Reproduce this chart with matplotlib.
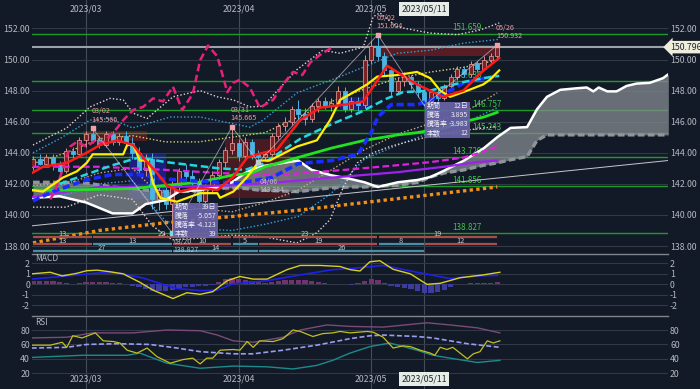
import matplotlib
matplotlib.use("Agg")
import matplotlib.pyplot as plt
from matplotlib.patches import Rectangle

plt.rcParams['font.family'] = ['Noto Sans CJK JP', 'DejaVu Sans']

# ------------------------------------------------------------------
# Data (x = bar index, 0 = 2023/02/17, 70 = 2023/05/26)
# ------------------------------------------------------------------
opens = [143.1, 143.6, 143.3, 143.7, 143.2, 142.8, 144.1, 143.9, 144.8, 145.2,
         144.8, 144.5, 145.2, 144.7, 145.1, 144.6, 144.0, 142.9, 143.6, 141.0,
         141.6, 140.7, 141.9, 142.8, 142.5, 142.2, 140.9, 141.8, 142.6, 143.4,
         144.2, 144.6, 143.8, 144.7, 143.9, 143.7, 143.9, 145.1, 145.7, 146.0,
         146.8, 146.5, 146.2, 147.0, 147.3, 147.0, 147.2, 148.0, 146.8, 147.3,
         147.1, 150.0, 150.9, 150.2, 149.3, 148.0, 148.6, 148.9, 148.4, 147.9,
         147.3, 147.9, 147.5, 148.3, 148.9, 149.4, 149.1, 149.8, 149.4, 150.0,
         150.2]
highs = [143.8, 143.9, 143.9, 143.9, 143.5, 144.3, 144.4, 145.0, 145.4, 145.566,
         145.1, 145.4, 145.4, 145.3, 145.4, 145.0, 144.4, 143.9, 144.0, 141.9,
         141.9, 142.2, 143.0, 143.3, 142.9, 142.4, 142.0, 142.8, 143.6, 144.4,
         145.665, 144.9, 145.0, 144.9, 144.2, 144.1, 145.3, 145.9, 146.3, 147.0,
         147.4, 146.9, 147.2, 147.5, 147.6, 147.5, 148.3, 148.2, 147.6, 147.6,
         150.3, 151.2, 151.604, 150.5, 149.5, 148.9, 149.2, 149.0, 148.6, 148.1,
         148.0, 148.1, 148.4, 149.1, 149.6, 149.6, 149.9, 149.9, 150.2, 150.4,
         150.932]
lows = [142.9, 143.2, 143.1, 142.9, 142.6, 142.7, 143.6, 143.8, 144.4, 144.6,
        144.3, 144.4, 144.5, 144.5, 144.4, 143.6, 142.6, 142.5, 140.4, 140.3,
        140.4, 138.827, 141.6, 142.2, 141.8, 140.6, 140.7, 141.5, 142.3, 143.1,
        143.9, 143.5, 143.6, 143.6, 143.384, 143.5, 143.8, 144.9, 145.4, 145.8,
        146.2, 145.8, 146.0, 146.6, 146.8, 146.7, 147.0, 146.6, 146.6, 146.7,
        146.9, 149.8, 150.0, 149.0, 147.7, 147.8, 148.3, 148.1, 147.6, 147.037,
        147.1, 147.3, 147.4, 148.1, 148.7, 148.9, 148.9, 149.2, 149.3, 149.8,
        150.0]
closes = [143.6, 143.3, 143.7, 143.2, 142.8, 144.1, 143.9, 144.8, 145.2, 144.8,
          144.5, 145.2, 144.7, 145.1, 144.6, 144.0, 142.9, 143.6, 141.0, 141.6,
          140.7, 141.9, 142.8, 142.5, 142.2, 140.9, 141.8, 142.6, 143.4, 144.2,
          144.6, 143.8, 144.7, 143.9, 143.7, 143.9, 145.1, 145.7, 146.0, 146.8,
          146.5, 146.2, 147.0, 147.3, 147.0, 147.2, 148.0, 146.8, 147.3, 147.1,
          150.0, 150.9, 150.2, 149.3, 148.0, 148.6, 148.9, 148.4, 147.9, 147.3,
          147.9, 147.5, 148.3, 148.9, 149.4, 149.1, 149.7, 149.4, 150.0, 150.2,
          150.796]

red_x = [-0.15, 1.5, 5.1, 8.1, 10.1, 12.7, 15.1, 16.6, 18.7, 20.2, 22.2, 24.1, 26.2, 27.8,
         30.2, 32.3, 34.7, 36.8, 40.3, 43.3, 47.1, 49.8, 53.4, 57.9, 61.8, 64.9, 67.4, 70.3]
red_y = [142.7, 143.1, 143.35, 144.0, 144.5, 144.8, 144.5, 143.7, 142.7, 141.9, 141.5, 141.7,
         141.7, 141.6, 142.45, 143.7, 144.0, 144.2, 146.1, 146.9, 147.1, 147.3, 149.6, 148.4,
         147.6, 148.0, 149.1, 150.1]
yel_x = [-0.15, 1.5, 4.5, 6.6, 8.1, 9.0, 13.6, 14.2, 15.1, 16.1, 17.3, 18.1, 19.2, 21.7, 25.2,
         27.8, 28.2, 30.2, 32.3, 34.2, 35.7, 39.8, 42.8, 44.8, 46.3, 50.4, 51.9, 54.9, 57.9,
         59.9, 61.4, 62.9, 65.5, 67.9, 68.9, 70.3]
yel_y = [141.6, 141.5, 142.4, 142.8, 143.35, 143.9, 143.9, 144.5, 144.5, 143.5, 143.5, 142.05,
         141.1, 140.85, 141.4, 141.4, 141.1, 141.5, 142.45, 143.5, 143.5, 144.4, 144.8, 146.1,
         147.4, 148.4, 148.9, 149.0, 149.2, 148.8, 148.0, 147.6, 148.0, 148.4, 148.7, 149.3]
cyan_x = [4, 8, 12, 16, 20, 24, 28, 32, 34.7, 40.3, 44.8, 49.3, 53.4, 55.8, 59.9, 64.9, 67.9, 70.3]
cyan_y = [142.0, 142.6, 143.2, 143.7, 143.4, 143.2, 143.0, 142.9, 143.3, 144.9, 145.8, 146.6,
          147.5, 147.9, 148.0, 148.55, 148.8, 148.95]
blue_x = [0, 3, 8, 12, 16, 20, 28, 31, 36, 40, 45, 49, 51, 52, 54, 58, 60, 62, 65, 67, 70]
blue_y = [140.9, 141.5, 142.25, 142.6, 142.6, 142.3, 142.1, 142.05, 142.4, 143.3, 143.5, 143.9,
          145.3, 146.3, 147.1, 147.1, 147.4, 147.8, 148.5, 148.7, 148.95]
green_x = [0, 5, 15, 20, 25, 30, 33, 35, 40, 45, 50, 55, 58, 62, 65, 68, 70]
green_y = [141.6, 141.6, 141.7, 141.9, 142.1, 142.55, 142.7, 143.1, 143.7, 144.3, 144.8, 145.15,
           145.3, 145.6, 146.0, 146.3, 146.6]
mag_x = [0, 10, 20, 28, 33, 38, 47, 55, 60, 65, 67, 70]
mag_y = [143.1, 143.1, 142.9, 142.7, 142.6, 142.6, 142.9, 143.2, 143.4, 143.7, 143.95, 144.4]
pur_x = [0, 5, 10, 20, 30, 37, 45, 55, 62, 67, 70]
pur_y = [141.15, 141.5, 141.8, 141.8, 141.9, 142.1, 142.4, 142.75, 143.1, 143.4, 143.5]
ora_x = [0, 10, 20, 30, 40, 50, 60, 70]
ora_y = [138.2, 139.0, 139.5, 139.9, 140.3, 140.8, 141.3, 141.8]

# lagging span
lag_x = [2.6, 3.3, 4.1, 5.6, 6.6, 8.1, 9.4, 10.4, 11.6, 12.7, 13.6, 15.1, 16.6, 18.1, 19.6, 21.1,
         22.5, 24.1, 25.2, 26.4, 27.8, 29.3, 30.2, 31.2, 32.7, 34.2, 36.2, 37.7, 39.2, 40.6,
         41.8, 43.3, 45.2]
lag_y = [141.0, 141.5, 142.45, 144.4, 144.7, 144.4, 144.8, 144.6, 145.1, 145.6, 146.1, 146.75,
         146.95, 147.5, 147.3, 148.25, 146.75, 147.8, 149.95, 150.9, 150.2, 147.9, 148.5, 148.7,
         148.2, 146.9, 147.4, 148.4, 149.2, 149.0, 149.8, 150.3, 150.8]

# cloud (leading spans)
span_x = [0, 4, 8, 12, 15, 17, 20, 22, 25, 28, 30, 32, 34, 37, 40, 42, 45, 48, 50, 52, 55, 58,
          60, 62, 65, 68, 70, 72, 74.5, 76, 77.5, 79.5, 82, 83.5, 84.5, 85.3, 86.6, 88, 89.5,
          91, 93, 95, 95.8]
span_a = [141.1, 141.2, 140.8, 140.1, 140.1, 140.7, 140.95, 141.5, 141.6, 141.8, 142.1, 142.7,
          143.1, 143.3, 143.5, 142.9, 142.55, 142.3, 142.1, 141.8, 142.1, 142.25, 142.45, 142.85,
          143.5, 144.3, 145.0, 145.6, 145.65, 146.8, 147.6, 148.05, 148.15, 148.2, 147.95,
          148.2, 147.95, 147.95, 148.3, 148.45, 148.5, 148.8, 149.05]
span_b = [142.1, 142.1, 142.05, 141.8, 141.7, 141.6, 141.5, 141.5, 141.55, 141.7, 141.75, 141.7,
          141.6, 141.55, 141.5, 141.6, 141.75, 141.8, 141.8, 141.85, 141.9, 142.1, 142.45, 142.7,
          142.9, 143.2, 143.35, 143.55, 143.75, 144.8, 145.15, 145.15, 145.15, 145.15, 145.15,
          145.15, 145.15, 145.15, 145.15, 145.15, 145.15, 145.15, 145.15]

# bands
u3_x = [0, 5.1, 8.6, 11.6, 13.6, 15.1, 17.2, 18.7, 21.1, 25.2, 27.8, 30.2, 32.7, 34.7, 39.8,
        43.7, 46.3, 49.8, 51.3, 52.3, 54.9, 59.9, 64, 67.4, 70.3]
u3_y = [144.5, 145.6, 146.95, 147.5, 147.4, 146.55, 146.2, 146.75, 147.6, 148.0, 147.6, 147.4,
        146.95, 147.0, 149.35, 150.6, 150.4, 150.8, 152.75, 153.0, 152.1, 151.7, 151.6, 151.9,
        152.35]
u2_x = [0, 4, 8.6, 11.6, 15, 20.7, 25.2, 32.7, 34.7, 39.8, 46.3, 49.8, 54.9, 59.9, 64.9, 70.3]
u2_y = [144.0, 144.9, 146.1, 146.2, 145.6, 146.3, 146.3, 145.65, 146.1, 147.85, 148.9, 149.5,
        150.4, 150.6, 151.05, 151.3]
band_x = [0, 5, 10, 15, 20, 25, 30, 35, 40, 45, 50, 55, 60, 65, 70]
u1_y = [143.3, 144.0, 144.9, 145.1, 144.7, 144.7, 145.0, 145.3, 146.3, 147.3, 148.1, 148.8,
        149.2, 149.5, 149.97]
l1_y = [141.9, 142.0, 142.7, 143.0, 140.9, 140.4, 140.2, 140.8, 141.6, 142.9, 144.2, 145.2,
        145.9, 146.6, 147.85]
l2_y = [141.2, 141.3, 142.0, 142.2, 139.6, 139.1, 139.0, 139.4, 139.9, 141.4, 143.6, 144.5,
        145.3, 145.9, 146.9]
l3_x = [0, 5, 10, 15, 18, 21, 25, 30, 34.7, 39.8, 42.8, 44.8, 46.8, 48.9, 51.3, 53.8, 57.3,
        62.4, 70.0]
l3_y = [140.5, 140.5, 141.3, 141.0, 139.3, 138.4, 138.5, 138.7, 138.6, 138.2, 138.85, 139.7,
        141.8, 143.35, 144.0, 144.4, 144.8, 145.3, 145.7]

trend_x = [-0.15, 95.75]
trend_y = [139.3, 143.5]

# zigzag pivots
piv_x = [9, 21, 30, 34, 52, 59, 70]
piv_y = [145.566, 138.827, 145.665, 143.384, 151.604, 147.037, 150.932]
piv_date = ["03/02", "03/20", "03/31", "04/06", "05/02", "05/11", "05/26"]

fib_levels = [151.659, 148.630, 146.757, 145.243, 143.729, 141.856, 138.827]
last_price = 150.796

# wave counts (three rows)
row1_x0 = [-0.15, 9, 30, 52]
row1_x1 = [9, 30, 52, 70]
row1_lab = ["13", "22", "23", "19"]
row2_x0 = [-0.15, 9, 21, 30, 34, 52, 59]
row2_x1 = [9, 21, 30, 34, 52, 59, 70]
row2_lab = ["13", "13", "10", "5", "19", "8", "12"]
row3_x0 = [-0.15, 21, 34]
row3_x1 = [21, 34, 59]
row3_lab = ["27", "14", "26"]

# MACD
macd_x = [-0.2, 2.6, 4.4, 6.6, 8.1, 9.7, 11.6, 13.6, 16.1, 18.1, 21.1, 23.2, 25.2, 27.1, 29.3,
          31.2, 33.2, 35.3, 38.3, 40.3, 43.3, 46.3, 47.8, 49.3, 50.8, 52.3, 54.3, 56.9, 59.4,
          61.4, 64.4, 67.9, 70.4]
macd_y = [1.0, 1.15, 0.8, 1.05, 1.3, 1.35, 1.2, 1.0, 0.2, -0.55, -1.35, -0.8, -0.95, -0.7, 0.35,
          0.75, 0.5, 0.5, 1.4, 1.8, 1.8, 1.7, 1.4, 1.27, 2.15, 2.25, 1.43, 1.0, 0.0, 0.1, 0.63,
          0.9, 1.15]
sig_x = [-0.2, 5.1, 10.1, 13.1, 16.6, 19.6, 21.7, 25.2, 27.8, 30.2, 32.7, 35.3, 40.3, 45.2,
         47.8, 52.8, 57.9, 62.9, 67.0, 70.0]
sig_y = [0.5, 0.8, 1.1, 1.05, 0.6, 0.0, -0.4, -0.6, -0.55, 0.05, 0.2, 0.35, 0.9, 1.4, 1.5, 1.8,
         1.15, 0.55, 0.8, 0.85]
hist = [0.35, 0.35, 0.3, 0.3, 0.2, 0.1, 0.05, 0.15, 0.2, 0.25, 0.2, 0.2, 0.15, 0.1, 0.05,
        -0.15, -0.3, -0.45, -0.6, -0.65, -0.6, -0.55, -0.45, -0.3, -0.25, -0.2, -0.15, -0.05,
        0.25, 0.5, 0.6, 0.55, 0.45, 0.3, 0.2, 0.15, 0.2, 0.3, 0.4, 0.45, 0.45, 0.4, 0.35, 0.2,
        0.1, 0.05, 0.05, 0.0, -0.05, 0.1, 0.35, 0.5, 0.4, 0.1, -0.15, -0.3, -0.35, -0.45, -0.6,
        -0.8, -0.85, -0.7, -0.5, -0.25, 0.0, 0.05, 0.1, 0.1, 0.15, 0.15, 0.2]

# RSI
rsi_x = [-0.2, 2.6, 4.4, 5.1, 6.0, 7.4, 9.4, 10.6, 12.1, 13.1, 14.2, 15.7, 17.2, 18.7, 20.7,
         22.6, 24.1, 25.2, 26.2, 27.1, 28.2, 30.2, 31.2, 32.3, 33.2, 34.2, 36.2, 37.7, 39.2,
         40.3, 42.2, 43.7, 45.2, 46.3, 47.8, 50.4, 51.3, 52.8, 54.3, 55.8, 56.9, 58.4, 59.9,
         60.6, 61.4, 62.4, 63.3, 65.5, 66.4, 67.4, 68.5, 69.4, 70.4]
rsi_y = [59, 59, 63, 56, 72, 69, 76, 65, 64, 62, 52, 48, 55, 43, 34, 39, 41, 33, 41, 41, 52, 53,
         52, 64, 56, 65, 64, 68, 80, 78, 71, 75, 76, 78, 76, 78, 77, 70, 55, 58, 57, 52, 48, 45,
         56, 53, 56, 40, 47, 50, 65, 62, 65]
rsima_x = [-0.2, 5.1, 8.1, 12.7, 17.6, 21.7, 25.2, 30.2, 33.2, 37.7, 42.8, 47.8, 50.8, 52.8,
           57.9, 60.3, 62.9, 65.5, 70.4]
rsima_y = [55, 56, 60, 61, 60, 55, 50, 47, 47, 52, 59, 68, 72, 73, 71, 69, 65, 61, 56]
rsiup_x = [-0.2, 5.1, 9.0, 15.1, 20.2, 25.2, 27.8, 30.2, 33.2, 37.7, 40.3, 44.3, 47.8, 52.8,
           59.4, 62.9, 67.0, 70.4]
rsiup_y = [69, 70, 76, 76, 80, 79, 73, 65, 63, 70, 80, 87, 85, 84, 90, 87, 83, 76]
rsilo_x = [-0.2, 7.5, 14.2, 16.1, 20.2, 25.2, 30.2, 35.3, 39.2, 42.8, 45.2, 47.8, 50.8, 53.8,
           57.9, 60.3, 62.9, 67.0, 70.4]
rsilo_y = [42, 45, 45, 48, 34, 27, 30, 29, 26, 31, 38, 48, 57, 62, 52, 45, 41, 35, 38]

month_x = [8, 31, 51]
month_lab = ["2023/03", "2023/04", "2023/05"]
cursor_x = 59
cursor_lab = "2023/05/11"

# ------------------------------------------------------------------
# Figure
# ------------------------------------------------------------------
BG = "#131a27"
TXT = "#b4b8c0"
GRID = "#313846"
XL = (-0.15, 95.75)

fig = plt.figure(figsize=(7, 3.89), dpi=100, facecolor=BG)
ax = fig.add_axes([32 / 700, 136 / 389, 636 / 700, 253 / 389])
axm = fig.add_axes([32 / 700, 74 / 389, 636 / 700, 61 / 389])
axr = fig.add_axes([32 / 700, 0, 636 / 700, 73 / 389])

for a in (ax, axm, axr):
    a.set_facecolor(BG)
    a.set_xlim(*XL)
    a.set_xticks([])
    for s in a.spines.values():
        s.set_visible(False)
    a.tick_params(axis="y", length=0, labelleft=True, labelright=True,
                  labelsize=6.3, colors=TXT, pad=1.5)
    a.grid(axis="y", color=GRID, lw=0.8)
    a.set_axisbelow(True)
    for mx in month_x + [cursor_x]:
        a.axvline(mx, color="#454c59", lw=0.8, zorder=0.5)

for a in (axm, axr):
    a.spines["top"].set_visible(True)
    a.spines["top"].set_color("#80848c")
    a.spines["top"].set_linewidth(1.0)

# ---------------- main panel ----------------
ax.set_ylim(137.55, 153.83)
ax.set_yticks([138, 140, 142, 144, 146, 148, 150, 152])
ax.set_yticklabels([f"{v:.2f}" for v in [138, 140, 142, 144, 146, 148, 150, 152]])

# shaded ranges
ax.add_patch(Rectangle((7.5, 144.75), 9.7, 0.65, fc="#6a1d22", alpha=0.75, lw=0, zorder=1))
ax.add_patch(Rectangle((29.0, 141.1), 9.7, 3.8, fc="#5a1a20", alpha=0.75, lw=0, zorder=1))
ax.add_patch(Rectangle((50.8, 150.25), 19.6, 0.7, fc="#6a1d24", alpha=0.8, lw=0, zorder=1))
ax.add_patch(Rectangle((14.5, 141.0), 5.5, 3.0, fc="#2424c8", alpha=0.55, lw=0, zorder=1))
ax.add_patch(Rectangle((46.3, 146.8), 4.5, 0.8, fc="#2424c8", alpha=0.55, lw=0, zorder=1))

# cloud
ax.fill_between(span_x, span_a, span_b, color="#858b92", alpha=0.75, lw=0, zorder=1.5)
ax.plot(span_x, span_b, color="#8f959b", lw=2.4, ls=(0, (2, 1)), zorder=2)
ax.plot(span_x, span_a, color="#ffffff", lw=1.8, zorder=4)

# fib levels and last price (labels that fall on the info box sit just right of it)
for lv in fib_levels:
    ax.axhline(lv, color="#1f9a2a", lw=1.0, zorder=1.2)
    lx = 66.2 if 144.9 < lv < 147.4 else 63.2
    ax.text(lx, lv + 0.08, f"{lv:.3f}", color="#3cc84a", fontsize=5.8,
            ha="left", va="bottom", zorder=2)
ax.axhline(last_price, color="#9da1a8", lw=1.5, zorder=1.3)
ax.text(96.05, last_price, f"{last_price:.3f}", color="#20242c", fontsize=6.3,
        ha="left", va="center", clip_on=False, zorder=10,
        bbox=dict(boxstyle="larrow,pad=0.2", fc="#eeeedc", ec="none"))

ax.plot(trend_x, trend_y, color="#c8c8cc", lw=0.7, zorder=2)

# bollinger-type bands
ax.plot(u3_x, u3_y, color="#e8d0d8", lw=1.0, ls=(0, (1, 1.5)), zorder=2.5)
ax.plot(u2_x, u2_y, color="#3aa0d8", lw=1.0, ls=(0, (1, 1.5)), zorder=2.5)
ax.plot(band_x, u1_y, color="#d8d070", lw=1.0, ls=(0, (1, 1.5)), zorder=2.5)
ax.plot(band_x, l1_y, color="#c8a888", lw=1.0, ls=(0, (1, 1.5)), zorder=2.5)
ax.plot(band_x, l2_y, color="#3aa0d8", lw=1.0, ls=(0, (1, 1.5)), zorder=2.5)
ax.plot(l3_x, l3_y, color="#e8d0d8", lw=1.0, ls=(0, (1, 1.5)), zorder=2.5)

# candles
for i in range(len(closes)):
    up = closes[i] >= opens[i]
    body_c = "#7a2226" if up else "#4ab4e4"
    edge_c = "#d89090" if up else "#4ab4e4"
    ax.vlines(i, lows[i], highs[i], color=edge_c, lw=0.7, zorder=3)
    lo, hi = min(opens[i], closes[i]), max(opens[i], closes[i])
    ax.add_patch(Rectangle((i - 0.3, lo), 0.6, max(hi - lo, 0.04), fc=body_c,
                           ec=edge_c, lw=0.6, zorder=3.1))

# averages
ax.plot(ora_x, ora_y, color="#f0901a", lw=2.4, ls=(0, (1, 1)), zorder=4)
ax.plot(pur_x, pur_y, color="#a020f0", lw=1.6, zorder=4)
ax.plot(mag_x, mag_y, color="#e020e0", lw=1.6, ls=(0, (3, 1.5)), zorder=4)
ax.plot(green_x, green_y, color="#22e022", lw=2.0, zorder=4)
ax.plot(blue_x, blue_y, color="#1a2cff", lw=2.6, ls=(0, (2, 1)), zorder=4)
ax.plot(cyan_x, cyan_y, color="#22d8e0", lw=1.8, ls=(0, (3, 1.5)), zorder=4)
ax.plot(yel_x, yel_y, color="#ffee00", lw=1.6, zorder=4.2)
ax.plot(red_x, red_y, color="#ff1a1a", lw=1.8, zorder=4.3)
ax.plot(lag_x, lag_y, color="#e8207a", lw=1.8, ls=(0, (3, 1.5)), zorder=4.1)

# zigzag and pivots
ax.plot(piv_x, piv_y, color="#d8c8d0", lw=0.6, alpha=0.7, zorder=4.4)
for px, py, pd in zip(piv_x, piv_y, piv_date):
    if pd == "05/11":
        continue
    is_high = py > 146 or pd in ("03/02", "03/31")
    if is_high:
        ax.scatter([px], [py], marker="s", s=7, color="#f0a0a8", zorder=6)
        ax.text(px - 0.2, py + 0.3, f"{pd}\n{py:.3f}", color="#e89a9a", fontsize=5.2,
                ha="left", va="bottom", linespacing=1.05, zorder=6)
    else:
        mcol = "#70e0e0" if pd == "03/20" else "#c0c8d0"
        ax.scatter([px], [py], marker="s", s=7, color=mcol, zorder=6)
        ty = py - 0.3 if pd == "03/20" else 142.4
        ax.text(px + 0.2, ty, f"{pd}\n{py:.3f}", color="#b8c0c8", fontsize=5.0,
                ha="left", va="top", linespacing=1.05, zorder=6)

# info boxes
for (x0, x1, y0, y1, rows) in [
        (21.1, 27.9, 138.5, 140.77, [("期間", "39日"), ("騰落", "-5.057"), ("騰落率", "-4.123"), ("本数", "39")]),
        (59.1, 65.9, 144.95, 147.27, [("期間", "12日"), ("騰落", "3.895"), ("騰落率", "-3.983"), ("本数", "12")])]:
    ax.add_patch(Rectangle((x0, y0), x1 - x0, y1 - y0, fc="#6a64a8", alpha=0.92, lw=0, zorder=7))
    step = (y1 - y0) / 4.0
    for k, (l, r) in enumerate(rows):
        yy = y1 - step * (k + 0.5)
        ax.text(x0 + 0.3, yy, l, color="#eeeef8", fontsize=5.0, ha="left", va="center", zorder=8)
        ax.text(x1 - 0.25, yy, r, color="#eeeef8", fontsize=5.0, ha="right", va="center", zorder=8)

# wave counts
for y, xs0, xs1, labs, cols in [
        (138.58, row1_x0, row1_x1, row1_lab, ["#a84c4c"] * 4),
        (138.13, row2_x0, row2_x1, row2_lab,
         ["#a84c4c", "#4a8ea6", "#a84c4c", "#4a8ea6", "#a84c4c", "#4a8ea6", "#a84c4c"]),
        (137.68, row3_x0, row3_x1, row3_lab, ["#4a8ea6"] * 3)]:
    for x0, x1, lab, c in zip(xs0, xs1, labs, cols):
        ax.plot([x0 + 0.1, x1 - 0.1], [y, y], color=c, lw=1.6, zorder=5, solid_capstyle="butt")
        ax.text((x0 + x1) / 2, y + 0.22, lab, color="#c4c4c8", fontsize=5.4,
                ha="center", va="center", zorder=5.5)

# date labels top
for mx, ml in zip(month_x, month_lab):
    ax.text(mx, 153.25, ml, color=TXT, fontsize=6.3, ha="center", va="center")
ax.text(cursor_x, 153.25, cursor_lab, color="#20242c", fontsize=6.3, ha="center", va="center",
        bbox=dict(boxstyle="square,pad=0.25", fc="#e6ece6", ec="none"), zorder=9)

# ---------------- MACD ----------------
axm.set_ylim(-2.92, 2.89)
axm.set_yticks([-2, -1, 0, 1, 2])
axm.set_yticklabels(["-2", "-1", "0", "1", "2"])
hcol = ["#74306f" if h >= 0 else "#3c3c9c" for h in hist]
axm.bar(range(len(hist)), hist, width=0.8, color=hcol, zorder=2)
axm.plot(sig_x, sig_y, color="#2020e8", lw=1.2, zorder=3)
axm.plot(macd_x, macd_y, color="#d8d020", lw=1.0, zorder=3.1)
axm.text(0.3, 2.45, "MACD", color=TXT, fontsize=6, ha="left", va="center")

# ---------------- RSI ----------------
axr.set_ylim(-1.75, 99.4)
axr.set_yticks([20, 40, 60, 80])
axr.set_yticklabels(["20", "40", "60", "80"])
axr.plot(rsiup_x, rsiup_y, color="#7a4a78", lw=1.0, zorder=2)
axr.plot(rsilo_x, rsilo_y, color="#1f8a8a", lw=1.0, zorder=2)
axr.plot(rsima_x, rsima_y, color="#9a9cf0", lw=1.2, ls=(0, (3, 1.5)), zorder=2.5)
axr.plot(rsi_x, rsi_y, color="#c0c020", lw=0.9, zorder=3)
axr.text(0.3, 90, "RSI", color=TXT, fontsize=6, ha="left", va="center")
for mx, ml in zip(month_x, month_lab):
    axr.text(mx, 12.1, ml, color=TXT, fontsize=6.3, ha="center", va="center")
axr.text(cursor_x, 12.1, cursor_lab, color="#20242c", fontsize=6.3, ha="center", va="center",
         bbox=dict(boxstyle="square,pad=0.25", fc="#e6ece6", ec="none"), zorder=9)

fig.savefig("out.png", dpi=100, facecolor=BG)
